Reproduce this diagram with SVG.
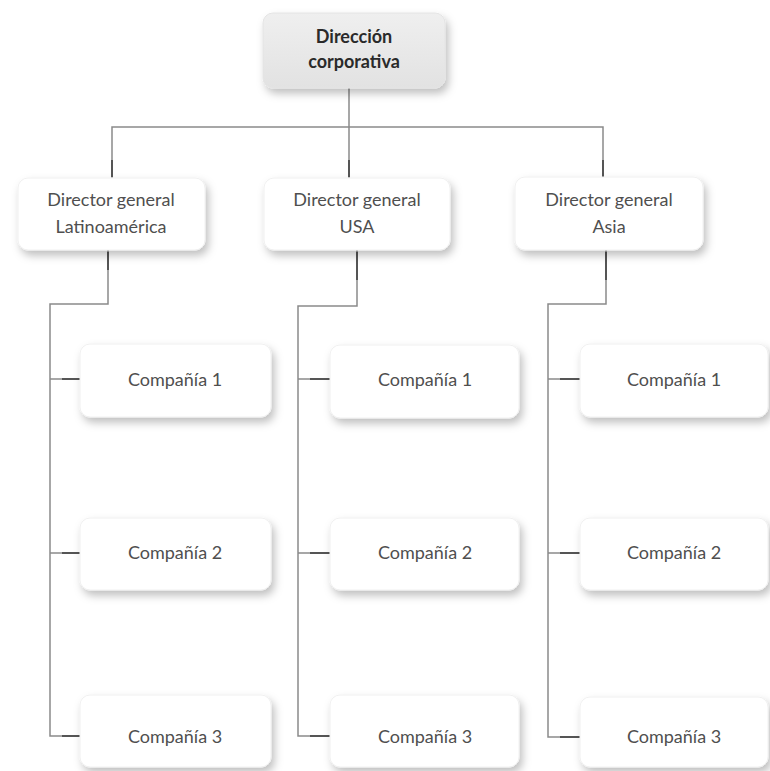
<svg xmlns="http://www.w3.org/2000/svg" width="770" height="771" viewBox="0 0 770 771">
<defs>
  <filter id="sh" x="-20%" y="-30%" width="150%" height="170%">
    <feDropShadow dx="3" dy="5" stdDeviation="4" flood-color="#000" flood-opacity="0.25"/>
  </filter>
  <linearGradient id="topg" x1="0" y1="0" x2="0" y2="1">
    <stop offset="0" stop-color="#efefef"/>
    <stop offset="1" stop-color="#e2e2e2"/>
  </linearGradient>
</defs>
<style>
  .box { fill: #ffffff; stroke: #f0f0f0; stroke-width: 1; filter: url(#sh); }
  .top { fill: url(#topg); stroke: #e4e4e4; stroke-width: 1; filter: url(#sh); }
  .t { font-family: "Lato", "Open Sans", sans-serif; font-size: 18px; fill: #4f4f4f; text-anchor: middle; }
  .tb { font-family: "Lato", "Open Sans", sans-serif; font-size: 18px; font-weight: bold; fill: #2a2a2a; text-anchor: middle; }
  .ln { fill: none; stroke: #8a8a8a; stroke-width: 1.5; }
  .tk { fill: none; stroke: #555; stroke-width: 2; }
</style>
<rect width="770" height="771" fill="#ffffff"/>

<g id="connectors">
  <path class="ln" d="M349 88 V178"/>
  <path class="ln" d="M112 178 V127 H603 V177"/>
  <path class="tk" d="M112 160 V177 M349 160 V177 M603 160 V177"/>
  <!-- column 1 -->
  <path class="ln" d="M108 250 V304 H50 V736 H80"/>
  <path class="ln" d="M50 379 H80 M50 553 H80"/>
  <path class="tk" d="M62 379 H80 M62 553 H80 M62 736 H80 M108 252 V270"/>
  <!-- column 2 -->
  <path class="ln" d="M357 250 V306 H298 V736 H330"/>
  <path class="ln" d="M298 379 H330 M298 553 H330"/>
  <path class="tk" d="M310 379 H330 M310 553 H330 M310 736 H330 M357 252 V280"/>
  <!-- column 3 -->
  <path class="ln" d="M606 250 V304 H548 V737 H580"/>
  <path class="ln" d="M548 379 H580 M548 553 H580"/>
  <path class="tk" d="M560 379 H580 M560 553 H580 M560 737 H580 M606 252 V280"/>
</g>

<g id="n-corp">
  <rect class="top" x="263" y="13" width="182" height="75" rx="10"/>
  <text class="tb" x="354" y="43">Dirección</text>
  <text class="tb" x="354" y="68">corporativa</text>
</g>

<g id="n-latam">
  <rect class="box" x="18" y="178" width="187" height="72" rx="10"/>
  <text class="t" x="111" y="206">Director general</text>
  <text class="t" x="111" y="233">Latinoamérica</text>
</g>
<g id="n-usa">
  <rect class="box" x="264" y="178" width="186" height="72" rx="10"/>
  <text class="t" x="357" y="206">Director general</text>
  <text class="t" x="357" y="233">USA</text>
</g>
<g id="n-asia">
  <rect class="box" x="515" y="177" width="188" height="73" rx="10"/>
  <text class="t" x="609" y="206">Director general</text>
  <text class="t" x="609" y="233">Asia</text>
</g>

<g id="n-l1"><rect class="box" x="80" y="344" width="191" height="73" rx="10"/><text class="t" x="175" y="386">Compañía 1</text></g>
<g id="n-l2"><rect class="box" x="80" y="518" width="191" height="72" rx="10"/><text class="t" x="175" y="559">Compañía 2</text></g>
<g id="n-l3"><rect class="box" x="80" y="695" width="191" height="72" rx="10"/><text class="t" x="175" y="743">Compañía 3</text></g>

<g id="n-u1"><rect class="box" x="330" y="345" width="189" height="73" rx="10"/><text class="t" x="425" y="386">Compañía 1</text></g>
<g id="n-u2"><rect class="box" x="330" y="518" width="189" height="72" rx="10"/><text class="t" x="425" y="559">Compañía 2</text></g>
<g id="n-u3"><rect class="box" x="330" y="695" width="189" height="72" rx="10"/><text class="t" x="425" y="743">Compañía 3</text></g>

<g id="n-a1"><rect class="box" x="580" y="344" width="188" height="73" rx="10"/><text class="t" x="674" y="386">Compañía 1</text></g>
<g id="n-a2"><rect class="box" x="580" y="518" width="188" height="72" rx="10"/><text class="t" x="674" y="559">Compañía 2</text></g>
<g id="n-a3"><rect class="box" x="580" y="697" width="188" height="70" rx="10"/><text class="t" x="674" y="743">Compañía 3</text></g>
</svg>
